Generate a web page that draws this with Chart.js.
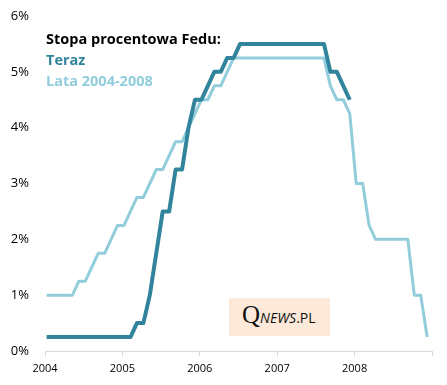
<!DOCTYPE html>
<html>
<head>
<meta charset="utf-8">
<script src="https://cdn.jsdelivr.net/npm/chart.js@4.4.1/dist/chart.umd.min.js"></script>
<style>
  body { margin: 0; background: #fff; }
  #wrap { position: relative; width: 447px; height: 385px; }
  #legend { position: absolute; left: 46px; top: 28.3px; font-family: 'Open Sans', sans-serif; font-weight: bold; font-size: 14.5px; line-height: 21px; }
  #logo { position: absolute; left: 229px; top: 298px; width: 101px; height: 38px; background: #fde9d9; }
  #logo .in { position: absolute; left: 13px; top: 4px; display: flex; align-items: baseline; color: #111; }
  #logo .q { font-family: 'Liberation Serif', serif; font-size: 25px; line-height: 1; }
  #logo .n { font-family: 'Open Sans', sans-serif; font-style: italic; font-size: 14px; line-height: 1; }
  #logo .p { font-family: 'Open Sans', sans-serif; font-size: 14px; line-height: 1; }
</style>
</head>
<body>
<div id="wrap">
  <canvas id="myChart" width="447" height="385"></canvas>
  <div id="legend">
    <div style="color:#000">Stopa procentowa Fedu:</div>
    <div style="color:#31849b">Teraz</div>
    <div style="color:#92cddc">Lata 2004-2008</div>
  </div>
  <div id="logo"><div class="in"><span class="q">Q</span><span class="n">NEWS</span><span class="p">.PL</span></div></div>
</div>
<script>
// monthly values, Jan of first year .. Dec of fifth year
const startYear = 2004;
const yearTicks = [2004, 2005, 2006, 2007, 2008, 2009];
const yTicks = [0, 1, 2, 3, 4, 5, 6];

// "Teraz" (fed funds upper bound, 2021-2024)
const teraz = [
  0.25, 0.25, 0.25, 0.25, 0.25, 0.25, 0.25, 0.25, 0.25, 0.25, 0.25, 0.25,
  0.25, 0.25, 0.5, 0.5, 1.0, 1.75, 2.5, 2.5, 3.25, 3.25, 4.0, 4.5,
  4.5, 4.75, 5.0, 5.0, 5.25, 5.25, 5.5, 5.5, 5.5, 5.5, 5.5, 5.5,
  5.5, 5.5, 5.5, 5.5, 5.5, 5.5, 5.5, 5.5, 5.0, 5.0, 4.75, 4.5
];

// "Lata 2004-2008"
const lata = [
  1.0, 1.0, 1.0, 1.0, 1.0, 1.25, 1.25, 1.5, 1.75, 1.75, 2.0, 2.25,
  2.25, 2.5, 2.75, 2.75, 3.0, 3.25, 3.25, 3.5, 3.75, 3.75, 4.0, 4.25,
  4.5, 4.5, 4.75, 4.75, 5.0, 5.25, 5.25, 5.25, 5.25, 5.25, 5.25, 5.25,
  5.25, 5.25, 5.25, 5.25, 5.25, 5.25, 5.25, 5.25, 4.75, 4.5, 4.5, 4.25,
  3.0, 3.0, 2.25, 2.0, 2.0, 2.0, 2.0, 2.0, 2.0, 1.0, 1.0, 0.25
];

function toPoints(arr){
    let pts = [];
    for(let i = 0; i < arr.length; i++){
        pts.push({x: i + 0.25, y: arr[i]});
    }
    return pts;
}

Chart.defaults.font.family = "'Open Sans', sans-serif";
Chart.defaults.color = '#000';

const data = {
    datasets: [
        { label: 'Teraz', data: toPoints(teraz), borderColor: '#31849b', borderWidth: 4, borderJoinStyle: 'round' },
        { label: 'Lata 2004-2008', data: toPoints(lata), borderColor: '#92cddc', borderWidth: 3, borderJoinStyle: 'round' }
    ]
};

const config = {
    type: 'line',
    data,
    options: {
        responsive: false,
        animation: false,
        devicePixelRatio: 1,
        layout: { padding: { top: 16, right: 15, left: 0, bottom: 0 } },
        elements: { point: { radius: 0 }, line: { tension: 0 } },
        plugins: { legend: { display: false }, tooltip: { enabled: false } },
        scales: {
            x: {
                type: 'linear',
                min: 0,
                max: (yearTicks.length - 1) * 12,
                afterBuildTicks: (s) => { s.ticks = yearTicks.map(y => ({ value: (y - startYear) * 12 })); },
                ticks: {
                    font: { size: 11 },
                    padding: 6,
                    maxRotation: 0,
                    autoSkip: false,
                    callback: (v) => { let y = startYear + v / 12; return y < yearTicks[yearTicks.length - 1] ? String(y) : ''; }
                },
                grid: { drawOnChartArea: false, drawTicks: true, tickLength: 5, color: '#d9d9d9' },
                border: { display: true, color: '#d9d9d9' },
                afterFit: (s) => { s.height = 34; }
            },
            y: {
                min: yTicks[0],
                max: yTicks[yTicks.length - 1],
                afterBuildTicks: (s) => { s.ticks = yTicks.map(v => ({ value: v })); },
                ticks: { font: { size: 13 }, padding: 0, callback: (v) => v + '%' },
                grid: { display: false, drawTicks: true, tickLength: 16 },
                border: { display: false },
                afterFit: (s) => { s.width = 45; }
            }
        }
    }
};

var myChart = new Chart(document.getElementById('myChart'), config);
</script>
</body>
</html>
